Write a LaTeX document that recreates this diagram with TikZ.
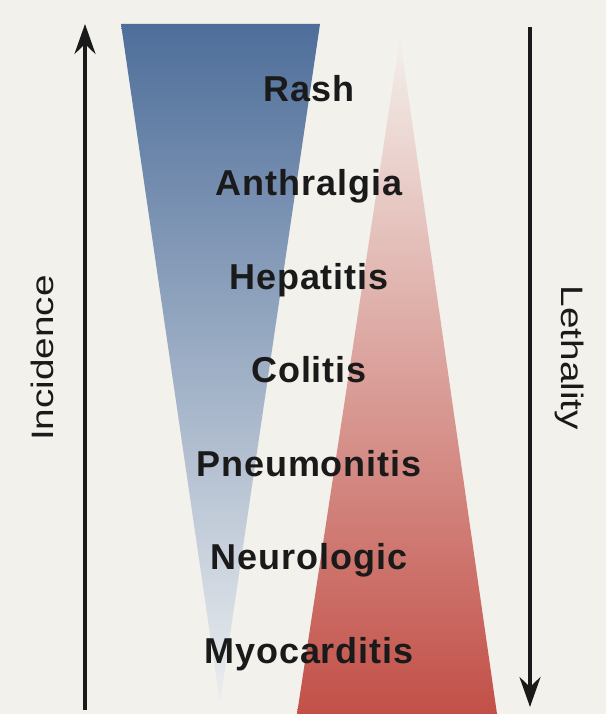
\documentclass[tikz,border=0pt]{standalone}
\usepackage{fontspec}
\setmainfont{Liberation Sans}
\newfontfamily\lblfont[LetterSpace=2.5]{Liberation Sans}
\usetikzlibrary{arrows.meta}

\definecolor{bgcream}{RGB}{242,241,235}
\definecolor{incblue}{RGB}{78,110,154}
\definecolor{incpale}{RGB}{236,238,240}
\definecolor{letred}{RGB}{194,80,72}
\definecolor{letmid}{RGB}{230,180,172}
\definecolor{letpale}{RGB}{243,239,235}
\definecolor{inkblack}{RGB}{26,26,26}

\tikzset{
  axisarrow/.style={line width=4pt,draw=inkblack,-{Stealth[length=30pt,width=21pt,inset=10pt]}},
  axislbl/.style={text=inkblack,font=\fontsize{31}{31}\selectfont,anchor=base,inner sep=0pt},
  tox/.style={text=inkblack,font=\lblfont\bfseries\fontsize{36}{36}\selectfont,anchor=base,inner sep=0pt}
}

\begin{document}
\begin{tikzpicture}[x=1pt,y=-1pt]
        % Background
        \fill[bgcream] (0,0) rectangle (606,714);
        \useasboundingbox (0,0) rectangle (606,714);

        % Incidence wedge (blue, narrowing downwards)
        \shade[top color=incblue,bottom color=incpale] (121,24) -- (320,24) -- (220,703) -- cycle;

        % Lethality wedge (red, widening downwards)
        \shade[top color=letpale,middle color=letmid,bottom color=letred] (400,38) -- (497,714) -- (297,714) -- cycle;

        % Axes
        \coordinate (incbot) at (85,710);
        \coordinate (inctop) at (85,24);
        \coordinate (lettop) at (530,27);
        \coordinate (letbot) at (530,707);
        \draw[axisarrow] (incbot) -- (inctop);
        \draw[axisarrow] (lettop) -- (letbot);
        \node[axislbl,rotate=90] (incidence) at (53,358) {\scalebox{1.25}[1]{Incidence}};
        \node[axislbl,rotate=-90] (lethality) at (561,358) {\scalebox{1.25}[1]{Lethality}};

        % Toxicities
        \foreach \tname [count=\i from 0] in {Rash,Anthralgia,Hepatitis,Colitis,Pneumonitis,Neurologic,Myocarditis}
            \node[tox] (tox\i) at (309,{102+93.5*\i}) {\tname};
    \end{tikzpicture}
\end{document}
